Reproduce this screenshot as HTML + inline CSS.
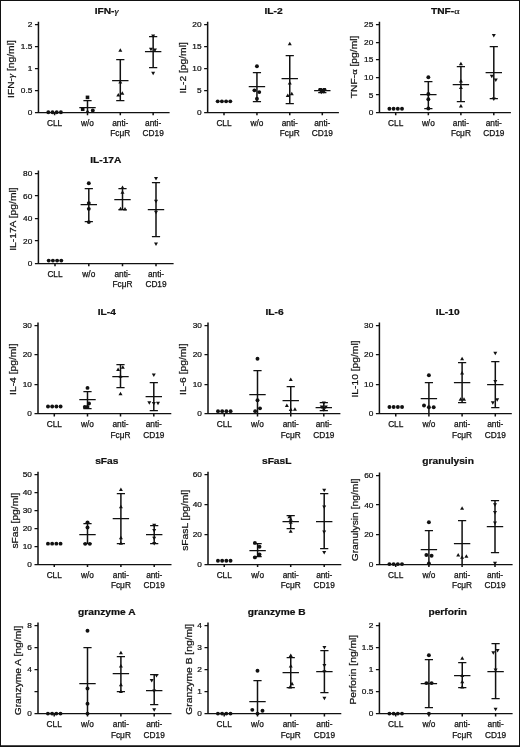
<!DOCTYPE html>
<html><head><meta charset="utf-8"><title>Cytokine panels</title>
<style>
html,body{margin:0;padding:0;background:#fff;}
body{width:520px;height:747px;overflow:hidden;}
svg{display:block;font-family:"Liberation Sans", sans-serif;will-change:transform;}
</style></head>
<body>
<svg width="520" height="747" viewBox="0 0 520 747">
<rect x="0" y="0" width="520" height="747" fill="#fff"/>
<path d="M34.95 112.5H169.6M34.95 90.5H38.45M34.95 68.5H38.45M34.95 46.5H38.45M34.95 24.5H38.45M83.4 100.5H91.6M79.3 107.5H95.7M116.2 59.5H124.4M116.2 100.5H124.4M112.1 80.5H128.5M149.05 36.5H157.25M149.05 67.5H157.25M144.95 51.5H161.35" fill="none" stroke="#111" stroke-width="1.25"/>
<path d="M38.45 21.8V112.5M54.6 112.5V115.3M87.5 112.5V115.3M120.3 112.5V115.3M153.15 112.5V115.3M87.5 100.5V112.5M120.3 59.5V100.5M153.15 36.5V67.5" fill="none" stroke="#111" stroke-width="1.5"/>
<g fill="#111"><circle cx="48.3" cy="112.3" r="1.95"/><circle cx="52.5" cy="112.3" r="1.95"/><circle cx="56.7" cy="112.3" r="1.95"/><circle cx="60.9" cy="112.3" r="1.95"/><rect x="85.7" y="95.57" width="3.6" height="3.6"/><rect x="80.9" y="107.43" width="3.6" height="3.6"/><path d="M87.5 109.32L89.5 112.82L85.5 112.82Z"/><circle cx="92.8" cy="110.54" r="1.95"/><path d="M120.3 48.3L122.3 51.8L118.3 51.8Z"/><path d="M120.3 79.91L122.3 83.41L118.3 83.41Z"/><path d="M118.3 93.08L120.3 96.58L116.3 96.58Z"/><path d="M122.3 91.32L124.3 94.82L120.3 94.82Z"/><path d="M153.15 38.01L155.15 34.51L151.15 34.51Z"/><path d="M150.95 51.18L152.95 47.68L148.95 47.68Z"/><path d="M154.95 52.06L156.95 48.56L152.95 48.56Z"/><path d="M153.15 75.33L155.15 71.83L151.15 71.83Z"/></g>
<g fill="#111" stroke="#111" stroke-width="0.25"><text transform="translate(32.35 115.1) scale(1 0.95)" text-anchor="end" font-size="8.3">0</text><text transform="translate(32.35 93.15) scale(1 0.95)" text-anchor="end" font-size="8.3">0.5</text><text transform="translate(32.35 71.2) scale(1 0.95)" text-anchor="end" font-size="8.3">1</text><text transform="translate(32.35 49.25) scale(1 0.95)" text-anchor="end" font-size="8.3">1.5</text><text transform="translate(32.35 27.3) scale(1 0.95)" text-anchor="end" font-size="8.3">2</text><text x="54.6" y="126" text-anchor="middle" font-size="8.3">CLL</text><text x="87.5" y="126" text-anchor="middle" font-size="8.3">w/o</text><text x="120.3" y="126" text-anchor="middle" font-size="8.3">anti-</text><text x="120.3" y="136.3" text-anchor="middle" font-size="8.3">FcμR</text><text x="153.15" y="126" text-anchor="middle" font-size="8.3">anti-</text><text x="153.15" y="136.3" text-anchor="middle" font-size="8.3">CD19</text><text transform="translate(106.6 14.4) scale(1.02 0.87)" text-anchor="middle" font-size="10" font-weight="bold">IFN-<tspan font-family="Liberation Serif" font-weight="normal" font-style="italic">γ</tspan></text><text transform="translate(14.1 69.1) rotate(-90) scale(1 0.9)" text-anchor="middle" font-size="10.3">IFN-<tspan font-family="Liberation Serif" font-style="italic">γ</tspan> [ng/ml]</text></g>
<path d="M204.15 112.5H338.9M204.15 90.5H207.65M204.15 68.5H207.65M204.15 46.5H207.65M204.15 24.5H207.65M252.84 72.5H261.04M252.84 101.5H261.04M248.74 86.5H265.14M285.66 55.5H293.86M285.66 103.5H293.86M281.56 78.5H297.96M318.2 89.5H326.4M318.2 92.5H326.4M314.1 90.5H330.5" fill="none" stroke="#111" stroke-width="1.25"/>
<path d="M207.65 21.8V112.5M224 112.5V115.3M256.94 112.5V115.3M289.76 112.5V115.3M322.3 112.5V115.3M256.94 72.5V101.5M289.76 55.5V103.5M322.3 89.5V92.5" fill="none" stroke="#111" stroke-width="1.5"/>
<g fill="#111"><circle cx="217.7" cy="101.33" r="1.95"/><circle cx="221.9" cy="101.33" r="1.95"/><circle cx="226.1" cy="101.33" r="1.95"/><circle cx="230.3" cy="101.33" r="1.95"/><circle cx="256.94" cy="66.2" r="1.95"/><circle cx="254.44" cy="90.35" r="1.95"/><circle cx="259.24" cy="92.11" r="1.95"/><circle cx="256.94" cy="98.69" r="1.95"/><path d="M289.76 41.72L291.76 45.22L287.76 45.22Z"/><path d="M289.76 81.01L291.76 84.51L287.76 84.51Z"/><path d="M287.76 93.52L289.76 97.02L285.76 97.02Z"/><path d="M291.76 91.76L293.76 95.26L289.76 95.26Z"/><path d="M320.3 91.57L322.3 88.07L318.3 88.07Z"/><path d="M324.3 91.57L326.3 88.07L322.3 88.07Z"/><path d="M321.3 94.21L323.3 90.71L319.3 90.71Z"/><path d="M323.8 93.77L325.8 90.27L321.8 90.27Z"/></g>
<g fill="#111" stroke="#111" stroke-width="0.25"><text transform="translate(201.55 115.1) scale(1 0.95)" text-anchor="end" font-size="8.3">0</text><text transform="translate(201.55 93.15) scale(1 0.95)" text-anchor="end" font-size="8.3">5</text><text transform="translate(201.55 71.2) scale(1 0.95)" text-anchor="end" font-size="8.3">10</text><text transform="translate(201.55 49.25) scale(1 0.95)" text-anchor="end" font-size="8.3">15</text><text transform="translate(201.55 27.3) scale(1 0.95)" text-anchor="end" font-size="8.3">20</text><text x="224" y="126" text-anchor="middle" font-size="8.3">CLL</text><text x="256.94" y="126" text-anchor="middle" font-size="8.3">w/o</text><text x="289.76" y="126" text-anchor="middle" font-size="8.3">anti-</text><text x="289.76" y="136.3" text-anchor="middle" font-size="8.3">FcμR</text><text x="322.3" y="126" text-anchor="middle" font-size="8.3">anti-</text><text x="322.3" y="136.3" text-anchor="middle" font-size="8.3">CD19</text><text transform="translate(273.5 14.4) scale(1.02 0.87)" text-anchor="middle" font-size="10" font-weight="bold">IL-2</text><text transform="translate(186 67.9) rotate(-90) scale(1 0.9)" text-anchor="middle" font-size="10.3">IL-2 [pg/ml]</text></g>
<path d="M375.95 112.5H510.9M375.95 94.5H379.45M375.95 77.5H379.45M375.95 59.5H379.45M375.95 42.5H379.45M375.95 24.5H379.45M424.25 81.5H432.45M424.25 108.5H432.45M420.15 94.5H436.55M456.8 66.5H465M456.8 101.5H465M452.7 84.5H469.1M489.7 46.5H497.9M489.7 98.5H497.9M485.6 72.5H502" fill="none" stroke="#111" stroke-width="1.25"/>
<path d="M379.45 21.8V112.5M395.7 112.5V115.3M428.35 112.5V115.3M460.9 112.5V115.3M493.8 112.5V115.3M428.35 81.5V108.5M460.9 66.5V101.5M493.8 46.5V98.5" fill="none" stroke="#111" stroke-width="1.5"/>
<g fill="#111"><circle cx="389.4" cy="108.79" r="1.95"/><circle cx="393.6" cy="108.79" r="1.95"/><circle cx="397.8" cy="108.79" r="1.95"/><circle cx="402" cy="108.79" r="1.95"/><circle cx="428.35" cy="77.18" r="1.95"/><circle cx="428.35" cy="94.04" r="1.95"/><circle cx="428.35" cy="99.31" r="1.95"/><circle cx="428.35" cy="108.44" r="1.95"/><path d="M460.9 61.73L462.9 65.23L458.9 65.23Z"/><path d="M460.9 79.12L462.9 82.62L458.9 82.62Z"/><path d="M460.9 85.62L462.9 89.12L458.9 89.12Z"/><path d="M460.9 104.05L462.9 107.55L458.9 107.55Z"/><path d="M493.8 37.49L495.8 33.99L491.8 33.99Z"/><path d="M491.8 78.23L493.8 74.73L489.8 74.73Z"/><path d="M495.8 82.09L497.8 78.59L493.8 78.59Z"/><path d="M493.8 100.88L495.8 97.38L491.8 97.38Z"/></g>
<g fill="#111" stroke="#111" stroke-width="0.25"><text transform="translate(373.35 115.1) scale(1 0.95)" text-anchor="end" font-size="8.3">0</text><text transform="translate(373.35 97.54) scale(1 0.95)" text-anchor="end" font-size="8.3">5</text><text transform="translate(373.35 79.98) scale(1 0.95)" text-anchor="end" font-size="8.3">10</text><text transform="translate(373.35 62.42) scale(1 0.95)" text-anchor="end" font-size="8.3">15</text><text transform="translate(373.35 44.86) scale(1 0.95)" text-anchor="end" font-size="8.3">20</text><text transform="translate(373.35 27.3) scale(1 0.95)" text-anchor="end" font-size="8.3">25</text><text x="395.7" y="126" text-anchor="middle" font-size="8.3">CLL</text><text x="428.35" y="126" text-anchor="middle" font-size="8.3">w/o</text><text x="460.9" y="126" text-anchor="middle" font-size="8.3">anti-</text><text x="460.9" y="136.3" text-anchor="middle" font-size="8.3">FcμR</text><text x="493.8" y="126" text-anchor="middle" font-size="8.3">anti-</text><text x="493.8" y="136.3" text-anchor="middle" font-size="8.3">CD19</text><text transform="translate(445.3 14.4) scale(1.02 0.87)" text-anchor="middle" font-size="10" font-weight="bold">TNF-<tspan font-family="Liberation Serif" font-weight="normal">α</tspan></text><text transform="translate(357.2 66.9) rotate(-90) scale(1 0.9)" text-anchor="middle" font-size="10.3">TNF-<tspan font-family="Liberation Serif">α</tspan> [pg/ml]</text></g>
<path d="M34.9 263.5H173.6M34.9 240.5H38.4M34.9 218.5H38.4M34.9 195.5H38.4M34.9 173.5H38.4M84.7 188.5H92.9M84.7 221.5H92.9M80.6 204.5H97M118.4 188.5H126.6M118.4 209.5H126.6M114.3 199.5H130.7M151.9 182.5H160.1M151.9 236.5H160.1M147.8 209.5H164.2" fill="none" stroke="#111" stroke-width="1.25"/>
<path d="M38.4 170.6V263.5M55 263.5V266.3M88.8 263.5V266.3M122.5 263.5V266.3M156 263.5V266.3M88.8 188.5V221.5M122.5 188.5V209.5M156 182.5V236.5" fill="none" stroke="#111" stroke-width="1.5"/>
<g fill="#111"><circle cx="48.7" cy="260.6" r="1.95"/><circle cx="52.9" cy="260.6" r="1.95"/><circle cx="57.1" cy="260.6" r="1.95"/><circle cx="61.3" cy="260.6" r="1.95"/><circle cx="88.8" cy="183.31" r="1.95"/><circle cx="88.8" cy="203.11" r="1.95"/><circle cx="88.8" cy="208.85" r="1.95"/><circle cx="88.8" cy="222.12" r="1.95"/><path d="M122.5 185.6L124.5 189.1L120.5 189.1Z"/><path d="M122.5 190.21L124.5 193.71L120.5 193.71Z"/><path d="M120.5 206.75L122.5 210.25L118.5 210.25Z"/><path d="M125 207.09L127 210.59L123 210.59Z"/><path d="M156 180.57L158 177.07L154 177.07Z"/><path d="M156 203.3L158 199.8L154 199.8Z"/><path d="M156 214.21L158 210.71L154 210.71Z"/><path d="M156 245.94L158 242.44L154 242.44Z"/></g>
<g fill="#111" stroke="#111" stroke-width="0.25"><text transform="translate(32.3 266.1) scale(1 0.95)" text-anchor="end" font-size="8.3">0</text><text transform="translate(32.3 243.6) scale(1 0.95)" text-anchor="end" font-size="8.3">20</text><text transform="translate(32.3 221.1) scale(1 0.95)" text-anchor="end" font-size="8.3">40</text><text transform="translate(32.3 198.6) scale(1 0.95)" text-anchor="end" font-size="8.3">60</text><text transform="translate(32.3 176.1) scale(1 0.95)" text-anchor="end" font-size="8.3">80</text><text x="55" y="277" text-anchor="middle" font-size="8.3">CLL</text><text x="88.8" y="277" text-anchor="middle" font-size="8.3">w/o</text><text x="122.5" y="277" text-anchor="middle" font-size="8.3">anti-</text><text x="122.5" y="287.3" text-anchor="middle" font-size="8.3">FcμR</text><text x="156" y="277" text-anchor="middle" font-size="8.3">anti-</text><text x="156" y="287.3" text-anchor="middle" font-size="8.3">CD19</text><text transform="translate(105.8 163) scale(1.02 0.87)" text-anchor="middle" font-size="10" font-weight="bold">IL-17A</text><text transform="translate(16.2 219.1) rotate(-90) scale(1 0.9)" text-anchor="middle" font-size="10.3">IL-17A [pg/ml]</text></g>
<path d="M34.5 413.5H171.3M34.5 384.5H38M34.5 354.5H38M34.5 325.5H38M83.4 391.5H91.6M83.4 408.5H91.6M79.3 399.5H95.7M116.4 364.5H124.6M116.4 387.5H124.6M112.3 376.5H128.7M149.7 382.5H157.9M149.7 410.5H157.9M145.6 396.5H162" fill="none" stroke="#111" stroke-width="1.25"/>
<path d="M38 322.5V413.5M54.3 413.5V416.5M87.5 413.5V416.5M120.5 413.5V416.5M153.8 413.5V416.5M87.5 391.5V408.5M120.5 364.5V387.5M153.8 382.5V410.5" fill="none" stroke="#111" stroke-width="1.5"/>
<g fill="#111"><circle cx="48" cy="406.44" r="1.95"/><circle cx="52.2" cy="406.44" r="1.95"/><circle cx="56.4" cy="406.44" r="1.95"/><circle cx="60.6" cy="406.44" r="1.95"/><circle cx="87.5" cy="387.89" r="1.95"/><circle cx="89" cy="403.49" r="1.95"/><circle cx="84.8" cy="407.02" r="1.95"/><circle cx="87.5" cy="407.02" r="1.95"/><path d="M120.5 374.31L122.5 377.81L118.5 377.81Z"/><path d="M118.1 367.54L120.1 371.04L116.1 371.04Z"/><path d="M122.8 365.19L124.8 368.69L120.8 368.69Z"/><path d="M120.5 391.68L122.5 395.18L118.5 395.18Z"/><path d="M153.8 377.04L155.8 373.54L151.8 373.54Z"/><path d="M149.3 404.71L151.3 401.21L147.3 401.21Z"/><path d="M153.8 405.59L155.8 402.09L151.8 402.09Z"/><path d="M158 405.3L160 401.8L156 401.8Z"/></g>
<g fill="#111" stroke="#111" stroke-width="0.25"><text transform="translate(31.9 416.3) scale(1 0.95)" text-anchor="end" font-size="8.3">0</text><text transform="translate(31.9 386.87) scale(1 0.95)" text-anchor="end" font-size="8.3">10</text><text transform="translate(31.9 357.43) scale(1 0.95)" text-anchor="end" font-size="8.3">20</text><text transform="translate(31.9 328) scale(1 0.95)" text-anchor="end" font-size="8.3">30</text><text x="54.3" y="427.2" text-anchor="middle" font-size="8.3">CLL</text><text x="87.5" y="427.2" text-anchor="middle" font-size="8.3">w/o</text><text x="120.5" y="427.2" text-anchor="middle" font-size="8.3">anti-</text><text x="120.5" y="437.5" text-anchor="middle" font-size="8.3">FcμR</text><text x="153.8" y="427.2" text-anchor="middle" font-size="8.3">anti-</text><text x="153.8" y="437.5" text-anchor="middle" font-size="8.3">CD19</text><text transform="translate(106.75 314.6) scale(1.02 0.87)" text-anchor="middle" font-size="10" font-weight="bold">IL-4</text><text transform="translate(16.45 369.2) rotate(-90) scale(1 0.9)" text-anchor="middle" font-size="10.3">IL-4 [pg/ml]</text></g>
<path d="M204.5 413.5H340.4M204.5 384.5H208M204.5 354.5H208M204.5 325.5H208M253.4 370.5H261.6M249.3 394.5H265.7M286.65 386.5H294.85M282.55 400.5H298.95M319.7 402.5H327.9M319.7 410.5H327.9M315.6 407.5H332" fill="none" stroke="#111" stroke-width="1.25"/>
<path d="M208 322.5V413.5M224.3 413.5V416.5M257.5 413.5V416.5M290.75 413.5V416.5M323.8 413.5V416.5M257.5 370.5V413.5M290.75 386.5V413.5M323.8 402.5V410.5" fill="none" stroke="#111" stroke-width="1.5"/>
<g fill="#111"><circle cx="218" cy="411.15" r="1.95"/><circle cx="222.2" cy="411.15" r="1.95"/><circle cx="226.4" cy="411.15" r="1.95"/><circle cx="230.6" cy="411.15" r="1.95"/><circle cx="257.5" cy="358.75" r="1.95"/><circle cx="257.5" cy="400.25" r="1.95"/><circle cx="260" cy="408.35" r="1.95"/><circle cx="255.2" cy="411.15" r="1.95"/><path d="M290.75 377.55L292.75 381.05L288.75 381.05Z"/><path d="M286.85 403.45L288.85 406.95L284.85 406.95Z"/><path d="M294.95 407.28L296.95 410.78L292.95 410.78Z"/><path d="M290.75 407.57L292.75 411.07L288.75 411.07Z"/><path d="M323.8 405L325.8 401.5L321.8 401.5Z"/><path d="M321.8 409.12L323.8 405.62L319.8 405.62Z"/><path d="M325.8 409.12L327.8 405.62L323.8 405.62Z"/><path d="M323.8 411.77L325.8 408.27L321.8 408.27Z"/></g>
<g fill="#111" stroke="#111" stroke-width="0.25"><text transform="translate(201.9 416.3) scale(1 0.95)" text-anchor="end" font-size="8.3">0</text><text transform="translate(201.9 386.87) scale(1 0.95)" text-anchor="end" font-size="8.3">10</text><text transform="translate(201.9 357.43) scale(1 0.95)" text-anchor="end" font-size="8.3">20</text><text transform="translate(201.9 328) scale(1 0.95)" text-anchor="end" font-size="8.3">30</text><text x="224.3" y="427.2" text-anchor="middle" font-size="8.3">CLL</text><text x="257.5" y="427.2" text-anchor="middle" font-size="8.3">w/o</text><text x="290.75" y="427.2" text-anchor="middle" font-size="8.3">anti-</text><text x="290.75" y="437.5" text-anchor="middle" font-size="8.3">FcμR</text><text x="323.8" y="427.2" text-anchor="middle" font-size="8.3">anti-</text><text x="323.8" y="437.5" text-anchor="middle" font-size="8.3">CD19</text><text transform="translate(274.5 314.6) scale(1.02 0.87)" text-anchor="middle" font-size="10" font-weight="bold">IL-6</text><text transform="translate(186.45 369.2) rotate(-90) scale(1 0.9)" text-anchor="middle" font-size="10.3">IL-6 [pg/ml]</text></g>
<path d="M375.9 413.5H511.8M375.9 384.5H379.4M375.9 354.5H379.4M375.9 325.5H379.4M424.8 382.5H433M420.7 398.5H437.1M458 362.5H466.2M458 402.5H466.2M453.9 382.5H470.3M491.2 361.5H499.4M491.2 407.5H499.4M487.1 384.5H503.5" fill="none" stroke="#111" stroke-width="1.25"/>
<path d="M379.4 322.5V413.5M395.75 413.5V416.5M428.9 413.5V416.5M462.1 413.5V416.5M495.3 413.5V416.5M428.9 382.5V413.5M462.1 362.5V402.5M495.3 361.5V407.5" fill="none" stroke="#111" stroke-width="1.5"/>
<g fill="#111"><circle cx="389.45" cy="407.02" r="1.95"/><circle cx="393.65" cy="407.02" r="1.95"/><circle cx="397.85" cy="407.02" r="1.95"/><circle cx="402.05" cy="407.02" r="1.95"/><circle cx="428.9" cy="375.24" r="1.95"/><circle cx="424" cy="405.55" r="1.95"/><circle cx="428.9" cy="407.32" r="1.95"/><circle cx="433.7" cy="407.32" r="1.95"/><path d="M462.1 356.65L464.1 360.15L460.1 360.15Z"/><path d="M462.1 371.08L464.1 374.58L460.1 374.58Z"/><path d="M460.6 397.27L462.6 400.77L458.6 400.77Z"/><path d="M464 397.27L466 400.77L462 400.77Z"/><path d="M495.3 355.26L497.3 351.76L493.3 351.76Z"/><path d="M495.3 383.52L497.3 380.02L493.3 380.02Z"/><path d="M492.8 404.71L494.8 401.21L490.8 401.21Z"/><path d="M497.2 401.77L499.2 398.27L495.2 398.27Z"/></g>
<g fill="#111" stroke="#111" stroke-width="0.25"><text transform="translate(373.3 416.3) scale(1 0.95)" text-anchor="end" font-size="8.3">0</text><text transform="translate(373.3 386.87) scale(1 0.95)" text-anchor="end" font-size="8.3">10</text><text transform="translate(373.3 357.43) scale(1 0.95)" text-anchor="end" font-size="8.3">20</text><text transform="translate(373.3 328) scale(1 0.95)" text-anchor="end" font-size="8.3">30</text><text x="395.75" y="427.2" text-anchor="middle" font-size="8.3">CLL</text><text x="428.9" y="427.2" text-anchor="middle" font-size="8.3">w/o</text><text x="462.1" y="427.2" text-anchor="middle" font-size="8.3">anti-</text><text x="462.1" y="437.5" text-anchor="middle" font-size="8.3">FcμR</text><text x="495.3" y="427.2" text-anchor="middle" font-size="8.3">anti-</text><text x="495.3" y="437.5" text-anchor="middle" font-size="8.3">CD19</text><text transform="translate(447.7 314.6) scale(1.02 0.87)" text-anchor="middle" font-size="10" font-weight="bold">IL-10</text><text transform="translate(357.85 369) rotate(-90) scale(1 0.9)" text-anchor="middle" font-size="10.3">IL-10 [pg/ml]</text></g>
<path d="M34.5 564.5H171.5M34.5 546.5H38M34.5 528.5H38M34.5 510.5H38M34.5 492.5H38M34.5 474.5H38M83.4 523.5H91.6M83.4 543.5H91.6M79.3 534.5H95.7M116.8 493.5H125M116.8 543.5H125M112.7 518.5H129.1M150.1 525.5H158.3M150.1 543.5H158.3M146 534.5H162.4" fill="none" stroke="#111" stroke-width="1.25"/>
<path d="M38 471.8V564.5M54.25 564.5V567.1M87.5 564.5V567.1M120.9 564.5V567.1M154.2 564.5V567.1M87.5 523.5V543.5M120.9 493.5V543.5M154.2 525.5V543.5" fill="none" stroke="#111" stroke-width="1.5"/>
<g fill="#111"><circle cx="47.95" cy="543.67" r="1.95"/><circle cx="52.15" cy="543.67" r="1.95"/><circle cx="56.35" cy="543.67" r="1.95"/><circle cx="60.55" cy="543.67" r="1.95"/><circle cx="87.5" cy="522.35" r="1.95"/><circle cx="87.5" cy="527.54" r="1.95"/><circle cx="85.2" cy="543.85" r="1.95"/><circle cx="89.8" cy="543.85" r="1.95"/><path d="M120.9 487.45L122.9 490.95L118.9 490.95Z"/><path d="M120.9 504.84L122.9 508.34L118.9 508.34Z"/><path d="M120.9 535.66L122.9 539.16L118.9 539.16Z"/><path d="M120.9 541.21L122.9 544.71L118.9 544.71Z"/><path d="M154.2 527.13L156.2 523.63L152.2 523.63Z"/><path d="M154.2 532.51L156.2 529.01L152.2 529.01Z"/><path d="M154.2 540.22L156.2 536.72L152.2 536.72Z"/><path d="M154.2 545.59L156.2 542.09L152.2 542.09Z"/></g>
<g fill="#111" stroke="#111" stroke-width="0.25"><text transform="translate(31.9 566.9) scale(1 0.95)" text-anchor="end" font-size="8.3">0</text><text transform="translate(31.9 548.98) scale(1 0.95)" text-anchor="end" font-size="8.3">10</text><text transform="translate(31.9 531.06) scale(1 0.95)" text-anchor="end" font-size="8.3">20</text><text transform="translate(31.9 513.14) scale(1 0.95)" text-anchor="end" font-size="8.3">30</text><text transform="translate(31.9 495.22) scale(1 0.95)" text-anchor="end" font-size="8.3">40</text><text transform="translate(31.9 477.3) scale(1 0.95)" text-anchor="end" font-size="8.3">50</text><text x="54.25" y="577.8" text-anchor="middle" font-size="8.3">CLL</text><text x="87.5" y="577.8" text-anchor="middle" font-size="8.3">w/o</text><text x="120.9" y="577.8" text-anchor="middle" font-size="8.3">anti-</text><text x="120.9" y="588.1" text-anchor="middle" font-size="8.3">FcμR</text><text x="154.2" y="577.8" text-anchor="middle" font-size="8.3">anti-</text><text x="154.2" y="588.1" text-anchor="middle" font-size="8.3">CD19</text><text transform="translate(106.8 464.3) scale(1.02 0.87)" text-anchor="middle" font-size="10" font-weight="bold">sFas</text><text transform="translate(17.6 520.6) rotate(-90) scale(1 0.9)" text-anchor="middle" font-size="10.3">sFas [pg/ml]</text></g>
<path d="M204.5 564.5H341.3M204.5 534.5H208M204.5 504.5H208M204.5 474.5H208M253.5 543.5H261.7M253.5 556.5H261.7M249.4 550.5H265.8M286.6 515.5H294.8M286.6 528.5H294.8M282.5 521.5H298.9M320.1 493.5H328.3M320.1 548.5H328.3M316 521.5H332.4" fill="none" stroke="#111" stroke-width="1.25"/>
<path d="M208 471.8V564.5M224.25 564.5V567.1M257.6 564.5V567.1M290.7 564.5V567.1M324.2 564.5V567.1M257.6 543.5V556.5M290.7 515.5V528.5M324.2 493.5V548.5" fill="none" stroke="#111" stroke-width="1.5"/>
<g fill="#111"><circle cx="217.95" cy="560.81" r="1.95"/><circle cx="222.15" cy="560.81" r="1.95"/><circle cx="226.35" cy="560.81" r="1.95"/><circle cx="230.55" cy="560.81" r="1.95"/><circle cx="254.9" cy="542.89" r="1.95"/><circle cx="259.5" cy="546.78" r="1.95"/><circle cx="259.5" cy="554.39" r="1.95"/><circle cx="254.9" cy="557.38" r="1.95"/><path d="M289.4 514.81L291.4 518.31L287.4 518.31Z"/><path d="M290.7 517.35L292.7 520.85L288.7 520.85Z"/><path d="M290.7 520.19L292.7 523.69L288.7 523.69Z"/><path d="M290.7 529.3L292.7 532.8L288.7 532.8Z"/><path d="M324.2 492.13L326.2 488.63L322.2 488.63Z"/><path d="M324.2 509.01L326.2 505.51L322.2 505.51Z"/><path d="M324.2 534.09L326.2 530.59L322.2 530.59Z"/><path d="M324.2 554.55L326.2 551.05L322.2 551.05Z"/></g>
<g fill="#111" stroke="#111" stroke-width="0.25"><text transform="translate(201.9 566.9) scale(1 0.95)" text-anchor="end" font-size="8.3">0</text><text transform="translate(201.9 537.03) scale(1 0.95)" text-anchor="end" font-size="8.3">20</text><text transform="translate(201.9 507.17) scale(1 0.95)" text-anchor="end" font-size="8.3">40</text><text transform="translate(201.9 477.3) scale(1 0.95)" text-anchor="end" font-size="8.3">60</text><text x="224.25" y="577.8" text-anchor="middle" font-size="8.3">CLL</text><text x="257.6" y="577.8" text-anchor="middle" font-size="8.3">w/o</text><text x="290.7" y="577.8" text-anchor="middle" font-size="8.3">anti-</text><text x="290.7" y="588.1" text-anchor="middle" font-size="8.3">FcμR</text><text x="324.2" y="577.8" text-anchor="middle" font-size="8.3">anti-</text><text x="324.2" y="588.1" text-anchor="middle" font-size="8.3">CD19</text><text transform="translate(276.7 464.3) scale(1.02 0.87)" text-anchor="middle" font-size="10" font-weight="bold">sFasL</text><text transform="translate(187.6 520.2) rotate(-90) scale(1 0.9)" text-anchor="middle" font-size="10.3">sFasL [pg/ml]</text></g>
<path d="M376 564.5H512.6M376 534.5H379.5M376 504.5H379.5M376 475.5H379.5M424.8 530.5H433M420.7 549.5H437.1M458 520.5H466.2M453.9 543.5H470.3M490.9 500.5H499.1M490.9 552.5H499.1M486.8 526.5H503.2" fill="none" stroke="#111" stroke-width="1.25"/>
<path d="M379.5 472.6V564.5M395.7 564.5V567.1M428.9 564.5V567.1M462.1 564.5V567.1M495 564.5V567.1M428.9 530.5V564.5M462.1 520.5V564.5M495 500.5V552.5" fill="none" stroke="#111" stroke-width="1.5"/>
<g fill="#111"><circle cx="389.4" cy="564.1" r="1.95"/><circle cx="393.6" cy="564.1" r="1.95"/><circle cx="397.8" cy="564.1" r="1.95"/><circle cx="402" cy="564.1" r="1.95"/><circle cx="428.9" cy="522.22" r="1.95"/><circle cx="426.4" cy="555.07" r="1.95"/><circle cx="431.6" cy="555.81" r="1.95"/><circle cx="428.9" cy="563.51" r="1.95"/><path d="M462.1 506.35L464.1 509.85L460.1 509.85Z"/><path d="M458.2 552.97L460.2 556.47L456.2 556.47Z"/><path d="M466.4 554.3L468.4 557.8L464.4 557.8Z"/><path d="M462.1 555.19L464.1 558.69L460.1 558.69Z"/><path d="M495 506.7L497 503.2L493 503.2Z"/><path d="M495 514.4L497 510.9L493 510.9Z"/><path d="M495 524.91L497 521.41L493 521.41Z"/><path d="M495 565.16L497 561.66L493 561.66Z"/></g>
<g fill="#111" stroke="#111" stroke-width="0.25"><text transform="translate(373.4 566.9) scale(1 0.95)" text-anchor="end" font-size="8.3">0</text><text transform="translate(373.4 537.3) scale(1 0.95)" text-anchor="end" font-size="8.3">20</text><text transform="translate(373.4 507.7) scale(1 0.95)" text-anchor="end" font-size="8.3">40</text><text transform="translate(373.4 478.1) scale(1 0.95)" text-anchor="end" font-size="8.3">60</text><text x="395.7" y="577.8" text-anchor="middle" font-size="8.3">CLL</text><text x="428.9" y="577.8" text-anchor="middle" font-size="8.3">w/o</text><text x="462.1" y="577.8" text-anchor="middle" font-size="8.3">anti-</text><text x="462.1" y="588.1" text-anchor="middle" font-size="8.3">FcμR</text><text x="495" y="577.8" text-anchor="middle" font-size="8.3">anti-</text><text x="495" y="588.1" text-anchor="middle" font-size="8.3">CD19</text><text transform="translate(448.1 464.3) scale(1.02 0.87)" text-anchor="middle" font-size="10" font-weight="bold">granulysin</text><text transform="translate(358 519.9) rotate(-90) scale(1 0.9)" text-anchor="middle" font-size="10.3">Granulysin [ng/ml]</text></g>
<path d="M34.5 713.5H171.5M34.5 691.5H38M34.5 669.5H38M34.5 647.5H38M34.5 625.5H38M83.4 647.5H91.6M79.3 683.5H95.7M116.8 656.5H125M116.8 691.5H125M112.7 673.5H129.1M150.1 674.5H158.3M150.1 704.5H158.3M146 690.5H162.4" fill="none" stroke="#111" stroke-width="1.25"/>
<path d="M38 622.5V713.5M54.2 713.5V716.6M87.5 713.5V716.6M120.9 713.5V716.6M154.2 713.5V716.6M87.5 647.5V713.5M120.9 656.5V691.5M154.2 674.5V704.5" fill="none" stroke="#111" stroke-width="1.5"/>
<g fill="#111"><circle cx="47.9" cy="713.6" r="1.95"/><circle cx="52.1" cy="713.6" r="1.95"/><circle cx="56.3" cy="713.6" r="1.95"/><circle cx="60.5" cy="713.6" r="1.95"/><circle cx="87.5" cy="630.73" r="1.95"/><circle cx="87.5" cy="688.52" r="1.95"/><circle cx="87.5" cy="703.65" r="1.95"/><circle cx="87.5" cy="713.6" r="1.95"/><path d="M120.9 650.73L122.9 654.23L118.9 654.23Z"/><path d="M120.9 663.99L122.9 667.49L118.9 667.49Z"/><path d="M120.9 682.77L122.9 686.27L118.9 686.27Z"/><path d="M120.9 689.4L122.9 692.9L118.9 692.9Z"/><path d="M151.7 682.55L153.7 679.05L149.7 679.05Z"/><path d="M156.5 677.58L158.5 674.08L154.5 674.08Z"/><path d="M154.2 693.05L156.2 689.55L152.2 689.55Z"/><path d="M154.2 711.72L156.2 708.22L152.2 708.22Z"/></g>
<g fill="#111" stroke="#111" stroke-width="0.25"><text transform="translate(31.9 716.4) scale(1 0.95)" text-anchor="end" font-size="8.3">0</text><text transform="translate(31.9 672.2) scale(1 0.95)" text-anchor="end" font-size="8.3">4</text><text transform="translate(31.9 650.1) scale(1 0.95)" text-anchor="end" font-size="8.3">6</text><text transform="translate(31.9 628) scale(1 0.95)" text-anchor="end" font-size="8.3">8</text><text x="54.2" y="727.3" text-anchor="middle" font-size="8.3">CLL</text><text x="87.5" y="727.3" text-anchor="middle" font-size="8.3">w/o</text><text x="120.9" y="727.3" text-anchor="middle" font-size="8.3">anti-</text><text x="120.9" y="737.6" text-anchor="middle" font-size="8.3">FcμR</text><text x="154.2" y="727.3" text-anchor="middle" font-size="8.3">anti-</text><text x="154.2" y="737.6" text-anchor="middle" font-size="8.3">CD19</text><text transform="translate(106.8 615.3) scale(1.02 0.87)" text-anchor="middle" font-size="10" font-weight="bold">granzyme A</text><text transform="translate(20.55 670.5) rotate(-90) scale(1 0.9)" text-anchor="middle" font-size="10.3">Granzyme A [ng/ml]</text></g>
<path d="M204.5 713.5H341.3M204.5 691.5H208M204.5 669.5H208M204.5 647.5H208M204.5 625.5H208M253.4 680.5H261.6M249.3 701.5H265.7M286.65 657.5H294.85M286.65 687.5H294.85M282.55 672.5H298.95M320.3 650.5H328.5M320.3 692.5H328.5M316.2 671.5H332.6" fill="none" stroke="#111" stroke-width="1.25"/>
<path d="M208 622.5V713.5M224.2 713.5V716.6M257.5 713.5V716.6M290.75 713.5V716.6M324.4 713.5V716.6M257.5 680.5V713.5M290.75 657.5V687.5M324.4 650.5V692.5" fill="none" stroke="#111" stroke-width="1.5"/>
<g fill="#111"><circle cx="217.9" cy="713.6" r="1.95"/><circle cx="222.1" cy="713.6" r="1.95"/><circle cx="226.3" cy="713.6" r="1.95"/><circle cx="230.5" cy="713.6" r="1.95"/><circle cx="257.5" cy="670.73" r="1.95"/><circle cx="252.3" cy="709.84" r="1.95"/><circle cx="262.5" cy="710.73" r="1.95"/><circle cx="257.5" cy="713.6" r="1.95"/><path d="M290.75 653.38L292.75 656.88L288.75 656.88Z"/><path d="M290.75 663.99L292.75 667.49L288.75 667.49Z"/><path d="M292.05 681.66L294.05 685.16L290.05 685.16Z"/><path d="M290.15 684.98L292.15 688.48L288.15 688.48Z"/><path d="M324.4 649.4L326.4 645.9L322.4 645.9Z"/><path d="M324.4 667.52L326.4 664.02L322.4 664.02Z"/><path d="M324.4 673.71L326.4 670.21L322.4 670.21Z"/><path d="M324.4 700.23L326.4 696.73L322.4 696.73Z"/></g>
<g fill="#111" stroke="#111" stroke-width="0.25"><text transform="translate(201.9 716.4) scale(1 0.95)" text-anchor="end" font-size="8.3">0</text><text transform="translate(201.9 694.3) scale(1 0.95)" text-anchor="end" font-size="8.3">1</text><text transform="translate(201.9 672.2) scale(1 0.95)" text-anchor="end" font-size="8.3">2</text><text transform="translate(201.9 650.1) scale(1 0.95)" text-anchor="end" font-size="8.3">3</text><text transform="translate(201.9 628) scale(1 0.95)" text-anchor="end" font-size="8.3">4</text><text x="224.2" y="727.3" text-anchor="middle" font-size="8.3">CLL</text><text x="257.5" y="727.3" text-anchor="middle" font-size="8.3">w/o</text><text x="290.75" y="727.3" text-anchor="middle" font-size="8.3">anti-</text><text x="290.75" y="737.6" text-anchor="middle" font-size="8.3">FcμR</text><text x="324.4" y="727.3" text-anchor="middle" font-size="8.3">anti-</text><text x="324.4" y="737.6" text-anchor="middle" font-size="8.3">CD19</text><text transform="translate(276.7 615.3) scale(1.02 0.87)" text-anchor="middle" font-size="10" font-weight="bold">granzyme B</text><text transform="translate(191.5 669.2) rotate(-90) scale(1 0.9)" text-anchor="middle" font-size="10.3">Granzyme B [ng/ml]</text></g>
<path d="M375.9 713.5H512.6M375.9 691.5H379.4M375.9 669.5H379.4M375.9 647.5H379.4M375.9 625.5H379.4M424.8 659.5H433M424.8 707.5H433M420.7 683.5H437.1M458.15 662.5H466.35M458.15 687.5H466.35M454.05 675.5H470.45M491.5 643.5H499.7M491.5 698.5H499.7M487.4 671.5H503.8" fill="none" stroke="#111" stroke-width="1.25"/>
<path d="M379.4 622.5V713.5M395.7 713.5V716.6M428.9 713.5V716.6M462.25 713.5V716.6M495.6 713.5V716.6M428.9 659.5V707.5M462.25 662.5V687.5M495.6 643.5V698.5" fill="none" stroke="#111" stroke-width="1.5"/>
<g fill="#111"><circle cx="389.4" cy="713.6" r="1.95"/><circle cx="393.6" cy="713.6" r="1.95"/><circle cx="397.8" cy="713.6" r="1.95"/><circle cx="402" cy="713.6" r="1.95"/><circle cx="428.9" cy="655.26" r="1.95"/><circle cx="426.4" cy="683.1" r="1.95"/><circle cx="431.6" cy="683.1" r="1.95"/><circle cx="428.9" cy="713.6" r="1.95"/><path d="M462.25 656.25L464.25 659.75L460.25 659.75Z"/><path d="M462.25 673.49L464.25 676.99L460.25 676.99Z"/><path d="M462.25 679.68L464.25 683.18L460.25 683.18Z"/><path d="M462.25 684.98L464.25 688.48L460.25 688.48Z"/><path d="M493.3 654.7L495.3 651.2L491.3 651.2Z"/><path d="M497.6 652.49L499.6 648.99L495.6 648.99Z"/><path d="M495.6 671.94L497.6 668.44L493.6 668.44Z"/><path d="M495.6 711.28L497.6 707.78L493.6 707.78Z"/></g>
<g fill="#111" stroke="#111" stroke-width="0.25"><text transform="translate(373.3 716.4) scale(1 0.95)" text-anchor="end" font-size="8.3">0</text><text transform="translate(373.3 694.3) scale(1 0.95)" text-anchor="end" font-size="8.3">0.5</text><text transform="translate(373.3 672.2) scale(1 0.95)" text-anchor="end" font-size="8.3">1</text><text transform="translate(373.3 650.1) scale(1 0.95)" text-anchor="end" font-size="8.3">1.5</text><text transform="translate(373.3 628) scale(1 0.95)" text-anchor="end" font-size="8.3">2</text><text x="395.7" y="727.3" text-anchor="middle" font-size="8.3">CLL</text><text x="428.9" y="727.3" text-anchor="middle" font-size="8.3">w/o</text><text x="462.25" y="727.3" text-anchor="middle" font-size="8.3">anti-</text><text x="462.25" y="737.6" text-anchor="middle" font-size="8.3">FcμR</text><text x="495.6" y="727.3" text-anchor="middle" font-size="8.3">anti-</text><text x="495.6" y="737.6" text-anchor="middle" font-size="8.3">CD19</text><text transform="translate(447.7 615.3) scale(1.02 0.87)" text-anchor="middle" font-size="10" font-weight="bold">perforin</text><text transform="translate(355.65 669.7) rotate(-90) scale(1 0.9)" text-anchor="middle" font-size="10.3">Perforin [ng/ml]</text></g>
<rect x="0.5" y="0.5" width="519" height="745.5" fill="none" stroke="#111" stroke-width="1"/>
<rect x="0" y="745.5" width="520" height="1.5" fill="#111"/>
</svg>
</body></html>
